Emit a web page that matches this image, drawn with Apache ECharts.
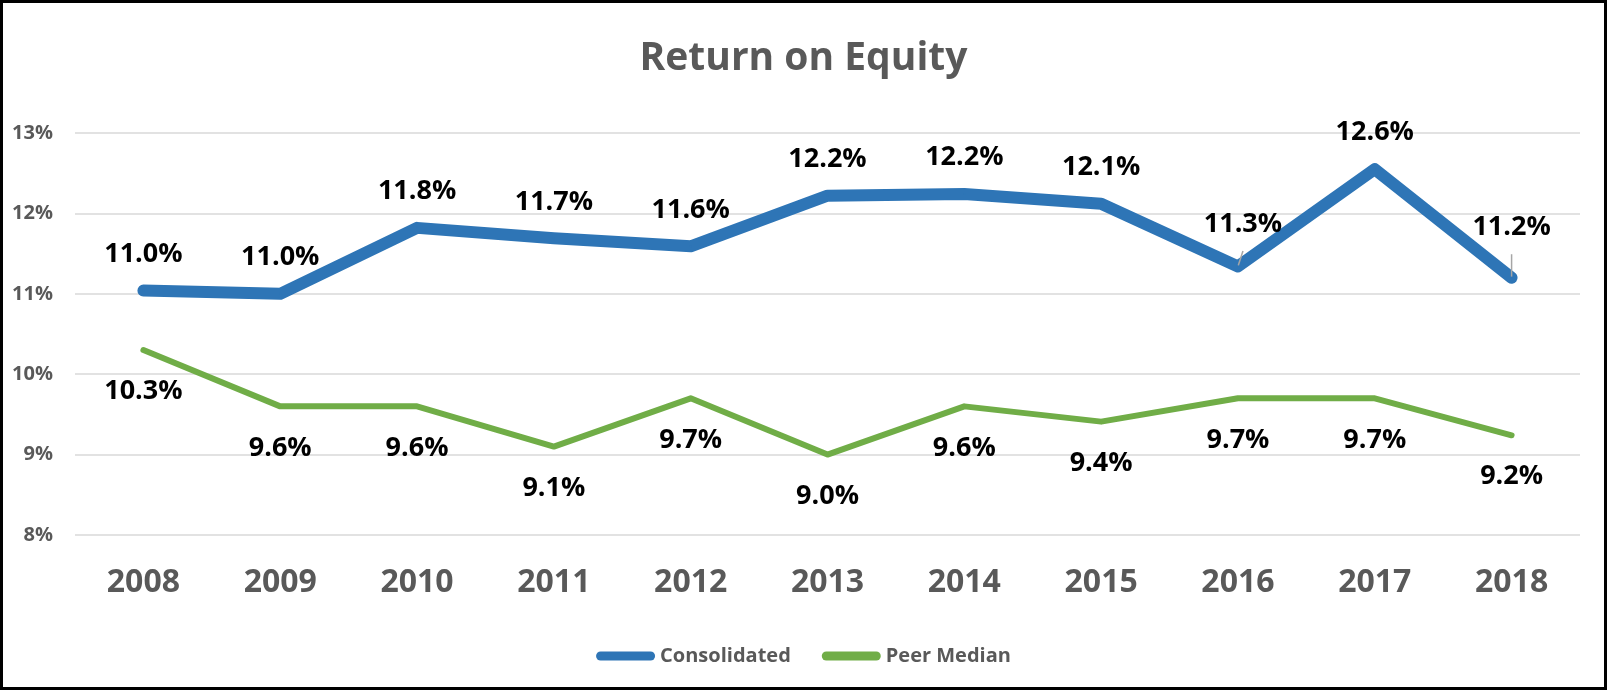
<!DOCTYPE html>
<html>
<head>
<meta charset="utf-8">
<title>Return on Equity</title>
<script src="https://cdn.jsdelivr.net/npm/echarts@6/dist/echarts.min.js"></script>
<style>
  html, body { margin: 0; padding: 0; background: #fff; }
  #roe { width: 1607px; height: 690px; }
</style>
</head>
<body>
<div id="roe"></div>
<script>
// data
var years = ['2008', '2009', '2010', '2011', '2012', '2013', '2014', '2015', '2016', '2017', '2018'];
var consolidated = [11.04, 11.00, 11.82, 11.69, 11.59, 12.22, 12.24, 12.12, 11.34, 12.55, 11.20];
var peerMedian = [10.30, 9.60, 9.60, 9.10, 9.70, 9.00, 9.60, 9.41, 9.70, 9.70, 9.24];
var yMin = 8, yMax = 13, yStep = 1;

var FONT = "'Open Sans', 'Noto Sans', sans-serif";
var GREY = '#595959';

// labels that were pulled up with a leader line
var pulled = { 8: [5, -6], 10: [0, -14] };

function pct(p) {
  return p.value.toFixed(1) + '%';
}

var consData = consolidated.map(function (v, i) {
  if (!pulled[i]) return v;
  return {
    value: v,
    label: { offset: pulled[i] },
    labelLine: { show: true, lineStyle: { color: '#a6a6a6', width: 1.5 } }
  };
});

var capsule = 'path://M4.5,0 L54.5,0 A4.5,4.5 0 0 1 54.5,9 L4.5,9 A4.5,4.5 0 0 1 4.5,0 Z';

var myChart = echarts.init(document.getElementById('roe'));
var option = {
  animation: false,
  backgroundColor: '#fff',
  title: {
    text: 'Return on Equity',
    left: 'center',
    top: 34,
    textStyle: { fontFamily: FONT, fontSize: 39, fontWeight: 'bold', color: GREY }
  },
  legend: {
    top: 641,
    left: 'center',
    itemWidth: 59,
    itemHeight: 9,
    itemGap: 31,
    data: [
      { name: 'Consolidated', icon: capsule },
      { name: 'Peer Median', icon: capsule }
    ],
    textStyle: { fontFamily: FONT, fontSize: 20, fontWeight: 'bold', color: GREY }
  },
  grid: { left: 75, right: 27, top: 133, bottom: 155, outerBoundsMode: 'none' },
  xAxis: {
    type: 'category',
    data: years,
    axisLine: { show: false },
    axisTick: { show: false },
    axisLabel: { margin: 32, fontFamily: FONT, fontSize: 32, fontWeight: 'bold', color: GREY }
  },
  yAxis: {
    type: 'value',
    min: yMin,
    max: yMax,
    interval: yStep,
    axisLine: { show: false },
    axisTick: { show: false },
    axisLabel: { margin: 22, formatter: '{value}%', fontFamily: FONT, fontSize: 20, fontWeight: 'bold', color: GREY },
    splitLine: { lineStyle: { color: '#d9d9d9', width: 1.5 } }
  },
  series: [
    {
      name: 'Consolidated',
      type: 'line',
      data: consData,
      symbol: 'circle',
      symbolSize: 2,
      showSymbol: true,
      itemStyle: { color: '#2e75b6' },
      lineStyle: { color: '#2e75b6', width: 12, cap: 'round', join: 'round' },
      label: {
        show: true,
        position: 'top',
        distance: 22,
        formatter: pct,
        fontFamily: FONT, fontSize: 27, fontWeight: 'bold', color: '#000'
      },
      z: 3
    },
    {
      name: 'Peer Median',
      type: 'line',
      data: peerMedian,
      symbol: 'circle',
      symbolSize: 2,
      showSymbol: true,
      itemStyle: { color: '#70ad47' },
      lineStyle: { color: '#70ad47', width: 6, cap: 'round', join: 'round' },
      label: {
        show: true,
        position: 'bottom',
        distance: 27,
        formatter: pct,
        fontFamily: FONT, fontSize: 27, fontWeight: 'bold', color: '#000'
      },
      z: 2
    }
  ],
  graphic: [
    {
      type: 'rect',
      silent: true,
      shape: { x: 1.5, y: 1.5, width: 1604, height: 687 },
      style: { fill: 'none', stroke: '#000', lineWidth: 3 }
    }
  ]
};
myChart.setOption(option);
</script>
</body>
</html>
